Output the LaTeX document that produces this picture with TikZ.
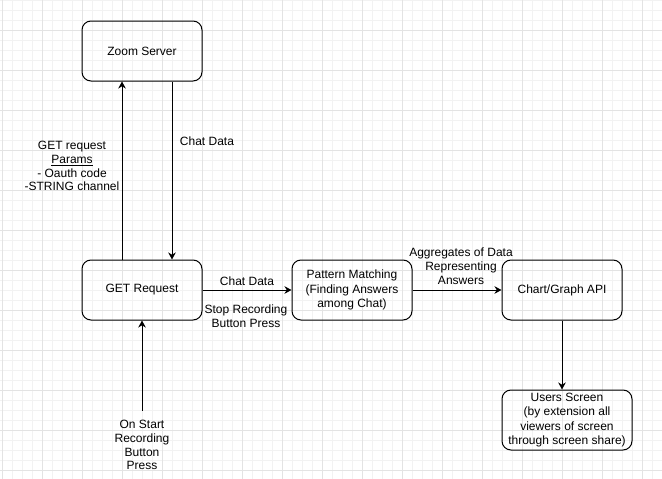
\documentclass[tikz,border=0pt]{standalone}
\usepackage{fontspec}
\setmainfont{Liberation Sans}
\usepackage{tikz}
\usetikzlibrary{arrows.meta}

\begin{document}
\begin{tikzpicture}[x=1pt, y=-1pt,
    gridminor/.style={line width=0.6pt, black!5},
    gridmajor/.style={line width=0.6pt, black!11},
    box/.style={draw, line width=1pt, rounded corners=9pt, minimum width=120pt, minimum height=60pt,
        align=center, font=\fontsize{12}{14.4}\selectfont, inner sep=2pt},
    lbl/.style={align=center, font=\fontsize{12}{13.8}\selectfont, inner sep=0pt},
    flow/.style={line width=1pt, -{Stealth[length=7pt, width=7.5pt, inset=2.2pt]}}]
    % background grid
    \useasboundingbox (0,0) rectangle (662,479);
    \fill[white] (0,0) rectangle (662,479);
    \foreach \gx in {2,12,...,662} \draw[gridminor] (\gx,0) -- (\gx,479);
    \foreach \gy in {0,10,...,479} \draw[gridminor] (0,\gy) -- (662,\gy);
    \foreach \gx in {2,42,...,662} \draw[gridmajor] (\gx,0) -- (\gx,479);
    \foreach \gy in {30,70,...,479} \draw[gridmajor] (0,\gy) -- (662,\gy);

    % Boxes
    \node[box] (zoom) at (142,51) {Zoom Server};
    \node[box] (get) at (142,290) {GET Request};
    \node[box] (pattern) at (352,290) {Pattern Matching\\(Finding Answers\\among Chat)};
    \node[box] (chart) at (562,290) {Chart/Graph API};
    \node[box, minimum width=130pt] (users) at (567,420) {Users Screen\\ (by extension all\\viewers of screen\\through screen share)};

    % Labels
    \node[lbl] (params) at (72,166) {GET request\\\underline{Params}\\- Oauth code\\-STRING channel};
    \node[lbl] (chatdown) at (207,141) {Chat Data};
    \node[lbl] (chatright) at (247,281) {Chat Data};
    \node[lbl] (stop) at (246,316) {Stop Recording\\Button Press};
    \node[lbl] (aggr) at (461,266) {Aggregates of Data\\Representing\\Answers};
    \node[lbl, inner ysep=9pt] (start) at (142,445) {On Start\\Recording\\Button\\Press};

    % Connectors
    \draw[flow] ([xshift=-20pt]get.north) -- ([xshift=-20pt]zoom.south);
    \draw[flow] ([xshift=30pt]zoom.south) -- ([xshift=30pt]get.north);
    \draw[flow] (get) -- (pattern);
    \draw[flow] (pattern) -- (chart);
    \draw[flow] (chart.south) -- (chart.south |- users.north);
    \draw[flow] (start) -- (get);
\end{tikzpicture}
\end{document}
